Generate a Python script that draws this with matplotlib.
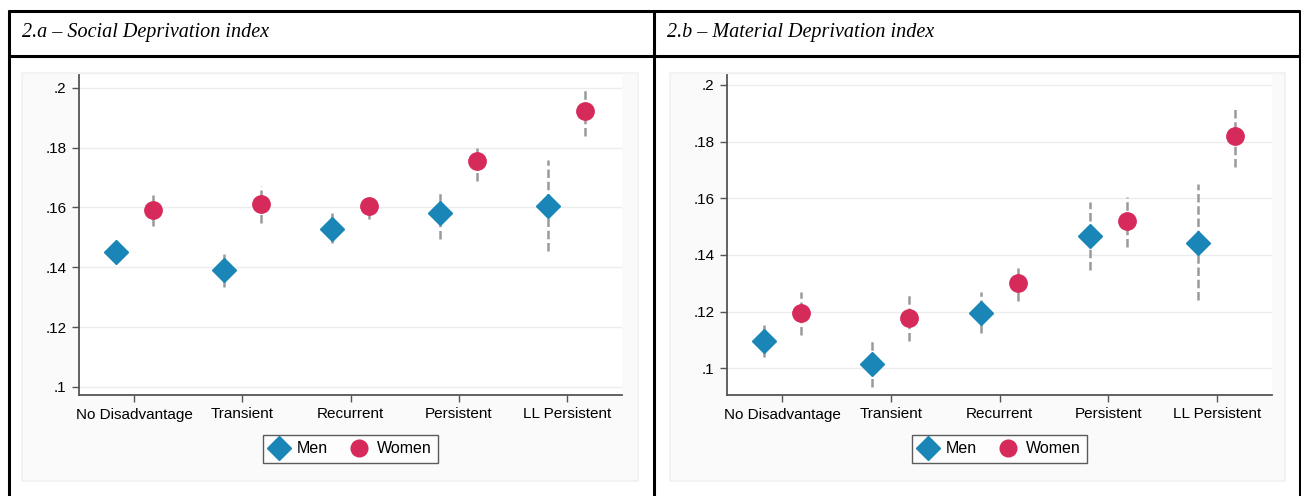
import numpy as np
import matplotlib
matplotlib.use("Agg")
import matplotlib.pyplot as plt
from matplotlib.lines import Line2D
from matplotlib.patches import Rectangle

# categories and values
categories = ["No Disadvantage", "Transient", "Recurrent", "Persistent", "LL Persistent"]

social_men = [0.1451, 0.1391, 0.1529, 0.1580, 0.1604]
social_men_lo = [0.1413, 0.1334, 0.1480, 0.1496, 0.1454]
social_men_hi = [0.1484, 0.1451, 0.1580, 0.1660, 0.1760]
social_women = [0.1590, 0.1610, 0.1604, 0.1754, 0.1921]
social_women_lo = [0.1538, 0.1549, 0.1560, 0.1688, 0.1838]
social_women_hi = [0.1643, 0.1671, 0.1633, 0.1807, 0.1999]

material_men = [0.1096, 0.1015, 0.1194, 0.1467, 0.1443]
material_men_lo = [0.1041, 0.0935, 0.1124, 0.1347, 0.1241]
material_men_hi = [0.1153, 0.1097, 0.1270, 0.1588, 0.1650]
material_women = [0.1194, 0.1176, 0.1300, 0.1520, 0.1820]
material_women_lo = [0.1118, 0.1096, 0.1239, 0.1429, 0.1709]
material_women_hi = [0.1270, 0.1259, 0.1365, 0.1606, 0.1923]

yticks = [0.1, 0.12, 0.14, 0.16, 0.18, 0.2]
ytick_labels = [".1", ".12", ".14", ".16", ".18", ".2"]

MEN_C = "#1a86b8"
WOMEN_C = "#d52a5a"
CI_C = "#9a9a9a"

plt.rcParams["font.family"] = ["Liberation Sans", "DejaVu Sans"]

W, H = 1301, 496
fig = plt.figure(figsize=(W / 100, H / 100), dpi=100)
fig.patch.set_facecolor("white")


def fx(px):
    return px / W


def fy(py):
    return 1 - py / H


# table lines of the document
tbl = fig.add_axes([0, 0, 1, 1], zorder=-5)
tbl.set_xlim(0, W)
tbl.set_ylim(H, 0)
tbl.axis("off")
for y in [11, 56]:
    tbl.plot([8, 1300], [y, y], color="black", lw=2.2, solid_capstyle="butt")
for x in [9, 654, 1299.5]:
    tbl.plot([x, x], [10, H], color="black", lw=2.2, solid_capstyle="butt")
# stata graph regions
for x0, x1 in [(22, 638), (670, 1285)]:
    tbl.add_patch(Rectangle((x0, 73), x1 - x0, 481 - 73, facecolor="#fafafa",
                            edgecolor="#f1f1f1", lw=1.2))

tbl.text(22, 33, "2.a \u2013 Social Deprivation index", fontsize=14.5, style="italic",
         family="Liberation Serif", va="center", ha="left")
tbl.text(667, 33, "2.b \u2013 Material Deprivation index", fontsize=14.5, style="italic",
         family="Liberation Serif", va="center", ha="left")


def panel(rect, men, men_lo, men_hi, women, women_lo, women_hi, ylim):
    ax = fig.add_axes(rect)
    ax.set_facecolor("white")
    x = np.arange(1, len(categories) + 1)
    off = 0.17
    for xs, lo, hi in [(x - off, men_lo, men_hi), (x + off, women_lo, women_hi)]:
        for xi, l, h in zip(xs, lo, hi):
            ax.plot([xi, xi], [l, h], color=CI_C, lw=1.8, ls=(0, (3.4, 1.5)), zorder=2)
    ax.plot(x - off, men, ls="none", marker="D", ms=12.5, color=MEN_C, mec=MEN_C, zorder=3)
    ax.plot(x + off, women, ls="none", marker="o", ms=12.5, color=WOMEN_C, mec=WOMEN_C, zorder=3)
    ax.set_xlim(0.49, 5.51)
    ax.set_ylim(*ylim)
    ax.set_xticks(x)
    ax.set_xticklabels(categories, fontsize=11)
    ax.set_yticks(yticks)
    ax.set_yticklabels(ytick_labels, fontsize=11)
    ax.grid(axis="y", color="#ececec", lw=1)
    ax.set_axisbelow(True)
    for s in ["top", "right"]:
        ax.spines[s].set_visible(False)
    for s in ["left", "bottom"]:
        ax.spines[s].set_color("#555555")
        ax.spines[s].set_linewidth(1.3)
    ax.tick_params(length=5, width=1, color="#555555", pad=4)
    handles = [Line2D([], [], ls="none", marker="D", ms=12, color=MEN_C, label="Men"),
               Line2D([], [], ls="none", marker="o", ms=12, color=WOMEN_C, label="Women")]
    leg = ax.legend(handles=handles, loc="upper center", bbox_to_anchor=(0.5, -0.1),
                    ncol=2, frameon=True, fancybox=False, fontsize=11.5,
                    handletextpad=0.55, columnspacing=1.3, borderpad=0.4, handlelength=1.2)
    leg.get_frame().set_edgecolor("#333333")
    leg.get_frame().set_linewidth(1.0)
    return ax


panel([fx(79), fy(395), fx(622) - fx(79), fy(75) - fy(395)],
      social_men, social_men_lo, social_men_hi,
      social_women, social_women_lo, social_women_hi, (0.0973, 0.2043))
panel([fx(727), fy(395), fx(1272) - fx(727), fy(75) - fy(395)],
      material_men, material_men_lo, material_men_hi,
      material_women, material_women_lo, material_women_hi, (0.0906, 0.2035))

fig.savefig("out.png", dpi=100)
